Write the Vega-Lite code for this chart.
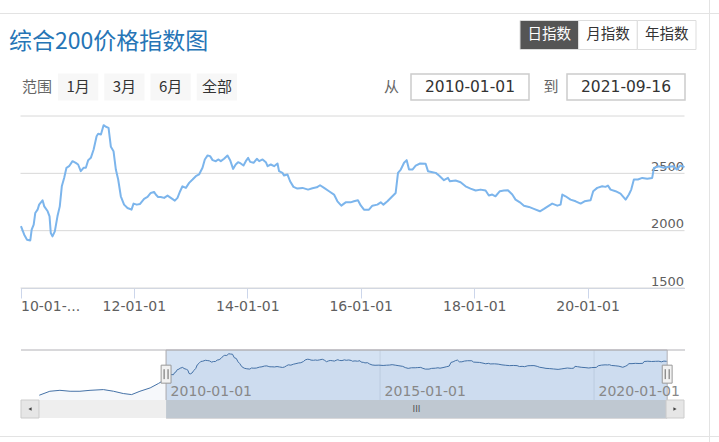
{
  "$schema": "https://vega.github.io/schema/vega-lite/v6.json",
  "width": 719,
  "height": 442,
  "autosize": {"type": "none"},
  "padding": 0,
  "background": "#ffffff",
  "config": {"view": {"stroke": null}, "font": "DejaVu Sans"},
  "datasets": {
    "index": [
      {"date": "2007-01-15", "value": 930}, {"date": "2007-04-15", "value": 1120}, {"date": "2007-07-10", "value": 1165}, {"date": "2007-10-05", "value": 1120}, {"date": "2007-12-28", "value": 1120}, {"date": "2008-03-23", "value": 1165}, {"date": "2008-07-15", "value": 1200}, {"date": "2008-10-10", "value": 1120}, {"date": "2009-01-01", "value": 1010}, {"date": "2009-03-13", "value": 960}, {"date": "2009-05-23", "value": 1120}, {"date": "2009-08-18", "value": 1280}, {"date": "2009-10-27", "value": 1490}, {"date": "2009-12-10", "value": 1640},
      {"date": "2010-01-04", "value": 2040}, {"date": "2010-01-25", "value": 1965}, {"date": "2010-02-12", "value": 1921}, {"date": "2010-03-05", "value": 1915}, {"date": "2010-03-14", "value": 2009}, {"date": "2010-03-27", "value": 2052}, {"date": "2010-04-06", "value": 2154}, {"date": "2010-04-21", "value": 2183}, {"date": "2010-05-01", "value": 2227}, {"date": "2010-05-23", "value": 2265}, {"date": "2010-06-03", "value": 2212}, {"date": "2010-06-25", "value": 2169}, {"date": "2010-07-07", "value": 2125}, {"date": "2010-07-15", "value": 1980}, {"date": "2010-07-26", "value": 1950}, {"date": "2010-08-10", "value": 1994}, {"date": "2010-08-27", "value": 2125}, {"date": "2010-09-11", "value": 2212}, {"date": "2010-09-24", "value": 2387}, {"date": "2010-10-09", "value": 2460}, {"date": "2010-10-24", "value": 2548}, {"date": "2010-11-10", "value": 2562}, {"date": "2010-12-02", "value": 2606}, {"date": "2010-12-23", "value": 2591},
      {"date": "2011-01-07", "value": 2577}, {"date": "2011-01-24", "value": 2519}, {"date": "2011-02-11", "value": 2548}, {"date": "2011-02-26", "value": 2548}, {"date": "2011-03-13", "value": 2615}, {"date": "2011-03-30", "value": 2635}, {"date": "2011-04-17", "value": 2708}, {"date": "2011-05-06", "value": 2824}, {"date": "2011-05-16", "value": 2845}, {"date": "2011-06-03", "value": 2839}, {"date": "2011-06-20", "value": 2920}, {"date": "2011-07-05", "value": 2906}, {"date": "2011-07-22", "value": 2897}, {"date": "2011-08-06", "value": 2731}, {"date": "2011-08-23", "value": 2693}, {"date": "2011-09-07", "value": 2533}, {"date": "2011-09-22", "value": 2446}, {"date": "2011-10-09", "value": 2300}, {"date": "2011-10-30", "value": 2227}, {"date": "2011-11-21", "value": 2198}, {"date": "2011-12-17", "value": 2183}, {"date": "2011-12-30", "value": 2236},
      {"date": "2012-01-20", "value": 2227}, {"date": "2012-02-10", "value": 2233}, {"date": "2012-03-07", "value": 2277}, {"date": "2012-03-29", "value": 2294}, {"date": "2012-04-19", "value": 2329}, {"date": "2012-05-10", "value": 2338}, {"date": "2012-05-21", "value": 2315}, {"date": "2012-06-05", "value": 2294}, {"date": "2012-06-22", "value": 2294}, {"date": "2012-07-14", "value": 2286}, {"date": "2012-08-05", "value": 2306}, {"date": "2012-08-26", "value": 2286}, {"date": "2012-09-21", "value": 2262}, {"date": "2012-10-08", "value": 2286}, {"date": "2012-10-25", "value": 2344}, {"date": "2012-11-09", "value": 2387}, {"date": "2012-12-01", "value": 2373}, {"date": "2012-12-22", "value": 2417},
      {"date": "2013-01-13", "value": 2446}, {"date": "2013-02-03", "value": 2475}, {"date": "2013-02-24", "value": 2490}, {"date": "2013-03-18", "value": 2548}, {"date": "2013-04-02", "value": 2621}, {"date": "2013-04-20", "value": 2656}, {"date": "2013-05-06", "value": 2650}, {"date": "2013-05-22", "value": 2615}, {"date": "2013-06-12", "value": 2606}, {"date": "2013-06-27", "value": 2621}, {"date": "2013-07-14", "value": 2606}, {"date": "2013-08-04", "value": 2627}, {"date": "2013-08-26", "value": 2656}, {"date": "2013-09-12", "value": 2615}, {"date": "2013-10-01", "value": 2539}, {"date": "2013-10-18", "value": 2577}, {"date": "2013-11-02", "value": 2597}, {"date": "2013-11-19", "value": 2586}, {"date": "2013-12-07", "value": 2568}, {"date": "2013-12-22", "value": 2606},
      {"date": "2014-01-06", "value": 2635}, {"date": "2014-01-19", "value": 2600}, {"date": "2014-02-10", "value": 2592}, {"date": "2014-03-03", "value": 2627}, {"date": "2014-03-18", "value": 2606}, {"date": "2014-04-09", "value": 2621}, {"date": "2014-04-30", "value": 2597}, {"date": "2014-05-11", "value": 2562}, {"date": "2014-06-01", "value": 2577}, {"date": "2014-06-22", "value": 2562}, {"date": "2014-07-14", "value": 2586}, {"date": "2014-07-24", "value": 2519}, {"date": "2014-08-15", "value": 2504}, {"date": "2014-08-25", "value": 2481}, {"date": "2014-09-16", "value": 2490}, {"date": "2014-10-03", "value": 2431}, {"date": "2014-10-25", "value": 2382}, {"date": "2014-11-19", "value": 2367}, {"date": "2014-12-22", "value": 2373},
      {"date": "2015-01-27", "value": 2358}, {"date": "2015-02-24", "value": 2370}, {"date": "2015-03-24", "value": 2378}, {"date": "2015-04-14", "value": 2396}, {"date": "2015-05-10", "value": 2373}, {"date": "2015-06-11", "value": 2344}, {"date": "2015-07-13", "value": 2315}, {"date": "2015-08-04", "value": 2256}, {"date": "2015-08-29", "value": 2218}, {"date": "2015-09-26", "value": 2247}, {"date": "2015-10-28", "value": 2247}, {"date": "2015-11-18", "value": 2256}, {"date": "2015-12-14", "value": 2265},
      {"date": "2016-01-01", "value": 2220}, {"date": "2016-01-22", "value": 2183}, {"date": "2016-02-23", "value": 2183}, {"date": "2016-03-16", "value": 2218}, {"date": "2016-04-17", "value": 2227}, {"date": "2016-05-09", "value": 2247}, {"date": "2016-05-26", "value": 2227}, {"date": "2016-06-21", "value": 2256}, {"date": "2016-07-23", "value": 2300}, {"date": "2016-08-13", "value": 2329}, {"date": "2016-08-28", "value": 2504}, {"date": "2016-09-15", "value": 2533}, {"date": "2016-10-06", "value": 2592}, {"date": "2016-10-23", "value": 2615}, {"date": "2016-11-07", "value": 2533}, {"date": "2016-11-29", "value": 2533}, {"date": "2016-12-20", "value": 2568},
      {"date": "2017-01-17", "value": 2586}, {"date": "2017-02-22", "value": 2583}, {"date": "2017-03-09", "value": 2519}, {"date": "2017-04-07", "value": 2510}, {"date": "2017-04-28", "value": 2504}, {"date": "2017-05-19", "value": 2481}, {"date": "2017-06-20", "value": 2440}, {"date": "2017-07-16", "value": 2460}, {"date": "2017-07-28", "value": 2431}, {"date": "2017-09-03", "value": 2437}, {"date": "2017-10-05", "value": 2422}, {"date": "2017-11-06", "value": 2387}, {"date": "2017-12-08", "value": 2367},
      {"date": "2018-01-10", "value": 2350}, {"date": "2018-02-11", "value": 2358}, {"date": "2018-03-15", "value": 2350}, {"date": "2018-04-05", "value": 2306}, {"date": "2018-04-27", "value": 2315}, {"date": "2018-05-18", "value": 2300}, {"date": "2018-06-15", "value": 2344}, {"date": "2018-07-11", "value": 2350}, {"date": "2018-08-06", "value": 2352}, {"date": "2018-09-03", "value": 2315}, {"date": "2018-09-24", "value": 2271}, {"date": "2018-10-22", "value": 2247}, {"date": "2018-11-17", "value": 2218}, {"date": "2018-12-19", "value": 2207},
      {"date": "2019-01-20", "value": 2190}, {"date": "2019-02-28", "value": 2169}, {"date": "2019-03-26", "value": 2190}, {"date": "2019-04-20", "value": 2212}, {"date": "2019-05-18", "value": 2236}, {"date": "2019-06-20", "value": 2218}, {"date": "2019-07-11", "value": 2227}, {"date": "2019-07-22", "value": 2315}, {"date": "2019-08-12", "value": 2300}, {"date": "2019-09-13", "value": 2271}, {"date": "2019-10-16", "value": 2256}, {"date": "2019-11-17", "value": 2236}, {"date": "2019-12-12", "value": 2256},
      {"date": "2020-01-20", "value": 2265}, {"date": "2020-02-06", "value": 2344}, {"date": "2020-03-03", "value": 2373}, {"date": "2020-04-04", "value": 2387}, {"date": "2020-04-25", "value": 2382}, {"date": "2020-05-11", "value": 2393}, {"date": "2020-05-28", "value": 2358}, {"date": "2020-06-29", "value": 2344}, {"date": "2020-07-31", "value": 2323}, {"date": "2020-09-02", "value": 2271}, {"date": "2020-09-23", "value": 2315}, {"date": "2020-10-08", "value": 2358}, {"date": "2020-10-25", "value": 2446}, {"date": "2020-11-20", "value": 2446}, {"date": "2020-12-18", "value": 2460},
      {"date": "2021-01-19", "value": 2452}, {"date": "2021-02-20", "value": 2460}, {"date": "2021-03-03", "value": 2548}, {"date": "2021-04-04", "value": 2562}, {"date": "2021-05-06", "value": 2548}, {"date": "2021-06-07", "value": 2557}, {"date": "2021-07-07", "value": 2562}, {"date": "2021-07-29", "value": 2533}, {"date": "2021-08-19", "value": 2568}, {"date": "2021-09-11", "value": 2557}, {"date": "2021-09-16", "value": 2555}
    ],
    "selection": [{"start": "2010-01-01", "end": "2021-09-16", "mid": "2015-11-08"}],
    "views": [{"label": "日指数", "active": true}, {"label": "月指数", "active": false}, {"label": "年指数", "active": false}],
    "ranges": [{"label": "1月"}, {"label": "3月"}, {"label": "6月"}, {"label": "全部"}],
    "bounds": [{"label": "从", "date": "2010-01-01"}, {"label": "到", "date": "2021-09-16"}],
    "ygrid": [{"tick": 1500}, {"tick": 2000}, {"tick": 2500}, {"tick": 3000}],
    "navgrid": [{"tick": "2010-01-01"}, {"tick": "2015-01-01"}, {"tick": "2020-01-01"}]
  },
  "layer": [
    {
      "data": {"values": [{"edge": "top"}, {"edge": "bottom"}]},
      "mark": {"type": "rule", "color": "#e3e3e3", "strokeWidth": 1},
      "encoding": {"y": {"field": "edge", "type": "nominal", "scale": {"type": "point", "domain": ["top", "bottom"], "range": [13.5, 436.5], "padding": 0}, "axis": null}}
    },
    {
      "data": {"values": [{"edge": "right"}]},
      "mark": {"type": "rule", "color": "#e3e3e3", "strokeWidth": 1},
      "encoding": {"x": {"field": "edge", "type": "nominal", "scale": {"type": "point", "domain": ["right"], "range": [709.5, 709.5], "padding": 0}, "axis": null}}
    },
    {
      "data": {"values": [{"title": "综合200价格指数图"}]},
      "mark": {"type": "text", "font": "Noto Sans CJK SC", "fontSize": 23, "color": "#2675b6", "align": "left", "baseline": "alphabetic"},
      "encoding": {
        "x": {"field": "title", "type": "nominal", "scale": {"type": "point", "domain": ["综合200价格指数图"], "range": [9, 9], "padding": 0}, "axis": null},
        "y": {"field": "title", "type": "nominal", "scale": {"type": "point", "domain": ["综合200价格指数图"], "range": [49, 49], "padding": 0}, "axis": null},
        "text": {"field": "title"}
      }
    },
    {
      "data": {"name": "views"},
      "encoding": {
        "x": {"field": "label", "type": "nominal", "scale": {"type": "band", "domain": ["日指数", "月指数", "年指数"], "range": [520, 696], "paddingInner": 0, "paddingOuter": 0}, "axis": null},
        "y": {"datum": "views", "type": "nominal", "scale": {"type": "band", "domain": ["views"], "range": [20.5, 49.5], "paddingInner": 0, "paddingOuter": 0}, "axis": null}
      },
      "layer": [
        {"mark": {"type": "rect", "stroke": "#dddddd", "strokeWidth": 1}, "encoding": {"fill": {"condition": {"test": "datum.active", "value": "#555555"}, "value": "#ffffff"}}},
        {"mark": {"type": "text", "font": "Noto Sans CJK SC", "fontSize": 14.5}, "encoding": {"text": {"field": "label"}, "color": {"condition": {"test": "datum.active", "value": "#ffffff"}, "value": "#333333"}}}
      ]
    },
    {
      "data": {"name": "ranges"},
      "encoding": {
        "x": {"field": "label", "type": "nominal", "scale": {"type": "band", "domain": ["1月", "3月", "6月", "全部"], "range": [58, 237], "paddingInner": 0.13, "paddingOuter": 0}, "axis": null},
        "y": {"datum": "ranges", "type": "nominal", "scale": {"type": "band", "domain": ["ranges"], "range": [73.5, 100.5], "paddingInner": 0, "paddingOuter": 0}, "axis": null}
      },
      "layer": [
        {"mark": {"type": "rect", "fill": "#f7f7f7"}},
        {"mark": {"type": "text", "font": "Noto Sans CJK SC", "fontSize": 15, "color": "#333333"}, "encoding": {"text": {"field": "label"}}}
      ]
    },
    {
      "data": {"values": [{"caption": "范围"}]},
      "mark": {"type": "text", "font": "Noto Sans CJK SC", "fontSize": 15, "color": "#666666"},
      "encoding": {
        "x": {"field": "caption", "type": "nominal", "scale": {"type": "point", "domain": ["范围"], "range": [37, 37], "padding": 0}, "axis": null},
        "y": {"field": "caption", "type": "nominal", "scale": {"type": "point", "domain": ["范围"], "range": [87, 87], "padding": 0}, "axis": null},
        "text": {"field": "caption"}
      }
    },
    {
      "data": {"name": "bounds"},
      "layer": [
        {
          "encoding": {
            "x": {"field": "label", "type": "nominal", "scale": {"type": "band", "domain": ["从", "到"], "range": [411, 685], "paddingInner": 0.2436, "paddingOuter": 0}, "axis": null},
            "y": {"datum": "bounds", "type": "nominal", "scale": {"type": "band", "domain": ["bounds"], "range": [74, 100], "paddingInner": 0, "paddingOuter": 0}, "axis": null}
          },
          "layer": [
            {"mark": {"type": "rect", "fill": "#ffffff", "stroke": "#cccccc", "strokeWidth": 1.5}},
            {"mark": {"type": "text", "font": "DejaVu Sans", "fontSize": 15.5, "color": "#333333"}, "encoding": {"text": {"field": "date"}}}
          ]
        },
        {
          "mark": {"type": "text", "font": "Noto Sans CJK SC", "fontSize": 15, "color": "#666666"},
          "encoding": {
            "x": {"field": "label", "type": "nominal", "scale": {"type": "point", "domain": ["从", "到"], "range": [391.5, 551], "padding": 0}, "axis": null},
            "y": {"datum": "bounds", "type": "nominal", "scale": {"type": "point", "domain": ["bounds"], "range": [87, 87], "padding": 0}, "axis": null},
            "text": {"field": "label"}
          }
        }
      ],
      "resolve": {"scale": {"x": "independent", "y": "independent"}}
    },
    {
      "layer": [
        {
          "data": {"name": "ygrid"},
          "mark": {"type": "rule", "color": "#d8d8d8", "strokeWidth": 1},
          "encoding": {
            "x": {"datum": {"year": 2010, "month": 1, "date": 1, "utc": true}, "type": "temporal", "scale": {"type": "utc", "domain": [{"year": 2010, "month": 1, "date": 1, "utc": true}, {"year": 2021, "month": 9, "date": 16, "utc": true}], "range": [20.5, 684.5]}},
            "x2": {"datum": {"year": 2021, "month": 9, "date": 16, "utc": true}},
            "y": {"field": "tick", "type": "quantitative", "scale": {"domain": [1500, 3000], "range": [288, 116], "nice": false, "zero": false}}
          }
        },
        {
          "data": {"name": "index"},
          "transform": [{"filter": "time(datum.date) >= utc(2010, 0, 1)"}],
          "mark": {"type": "line", "color": "#7cb5ec", "strokeWidth": 2, "strokeJoin": "round"},
          "encoding": {
            "x": {
              "field": "date", "type": "temporal",
              "scale": {"type": "utc", "domain": [{"year": 2010, "month": 1, "date": 1, "utc": true}, {"year": 2021, "month": 9, "date": 16, "utc": true}], "range": [20.5, 684.5]},
              "axis": {
                "orient": "bottom", "offset": -154,
                "values": [{"year": 2010, "month": 1, "date": 1, "utc": true}, {"year": 2012, "month": 1, "date": 1, "utc": true}, {"year": 2014, "month": 1, "date": 1, "utc": true}, {"year": 2016, "month": 1, "date": 1, "utc": true}, {"year": 2018, "month": 1, "date": 1, "utc": true}, {"year": 2020, "month": 1, "date": 1, "utc": true}],
                "format": "%y-%m-%d",
                "labelExpr": "utcyear(datum.value) == 2010 ? '10-01-...' : datum.label",
                "labelFlush": true, "labelOverlap": false,
                "tickSize": 10, "tickColor": "#ccd6eb", "domainColor": "#ccd6eb",
                "labelColor": "#606060", "labelFont": "DejaVu Sans", "labelFontSize": 14,
                "labelPadding": 8, "labelBaseline": "middle", "grid": false, "title": null
              }
            },
            "y": {
              "field": "value", "type": "quantitative",
              "scale": {"domain": [1500, 3000], "range": [288, 116], "nice": false, "zero": false},
              "axis": {
                "orient": "right", "offset": 0, "values": [1500, 2000, 2500, 3000], "format": "d",
                "labelExpr": "datum.value == 3000 ? '' : datum.label",
                "grid": false, "domain": false, "ticks": false,
                "labelAlign": "right", "labelPadding": -35.5, "labelBaseline": "alphabetic", "labelOffset": -3,
                "labelColor": "#606060", "labelFont": "DejaVu Sans", "labelFontSize": 13, "title": null
              }
            }
          }
        }
      ]
    },
    {
      "layer": [
        {
          "data": {"name": "navgrid"},
          "mark": {"type": "rule", "color": "#e6e6e6", "strokeWidth": 1},
          "encoding": {
            "x": {
              "field": "tick", "type": "temporal",
              "scale": {"type": "utc", "domain": [{"year": 2006, "month": 8, "date": 12, "utc": true}, {"year": 2022, "month": 2, "date": 15, "utc": true}], "range": [21, 685]},
              "axis": {
                "orient": "bottom", "offset": 0,
                "values": [{"year": 2010, "month": 1, "date": 1, "utc": true}, {"year": 2015, "month": 1, "date": 1, "utc": true}, {"year": 2020, "month": 1, "date": 1, "utc": true}],
                "format": "%Y-%m-%d", "grid": false, "domain": false, "ticks": false,
                "labelAlign": "left", "labelOffset": 4, "labelPadding": -47, "labelBaseline": "alphabetic",
                "labelColor": "#888888", "labelFont": "DejaVu Sans", "labelFontSize": 14,
                "labelFlush": false, "labelOverlap": false, "title": null, "zindex": 1
              }
            },
            "y": {"datum": 3100, "type": "quantitative", "scale": {"domain": [700, 3100], "range": [400, 350], "nice": false, "zero": false}, "axis": null},
            "y2": {"datum": 700}
          }
        },
        {
          "data": {"name": "selection"},
          "mark": {"type": "rect", "fill": "#6f9fd8", "fillOpacity": 0.3},
          "encoding": {
            "x": {"field": "start", "type": "temporal"},
            "x2": {"field": "end"},
            "y": {"datum": 3100, "type": "quantitative"},
            "y2": {"datum": 700}
          }
        },
        {
          "data": {"name": "index"},
          "mark": {"type": "area", "color": "#4572a7", "fillOpacity": 0.05},
          "encoding": {
            "x": {"field": "date", "type": "temporal"},
            "y": {"field": "value", "type": "quantitative"},
            "y2": {"datum": 700}
          }
        },
        {
          "data": {"name": "index"},
          "mark": {"type": "line", "color": "#4572a7", "strokeWidth": 1},
          "encoding": {
            "x": {"field": "date", "type": "temporal"},
            "y": {"field": "value", "type": "quantitative"}
          }
        },
        {
          "data": {"name": "selection"},
          "mark": {"type": "rule", "color": "#b2b1b6", "strokeWidth": 1},
          "encoding": {
            "x": {"datum": {"year": 2006, "month": 8, "date": 12, "utc": true}, "type": "temporal"},
            "x2": {"datum": {"year": 2022, "month": 2, "date": 15, "utc": true}},
            "y": {"datum": 3100, "type": "quantitative"}
          }
        },
        {
          "data": {"name": "selection"},
          "mark": {"type": "rect", "fill": null, "fillOpacity": 0, "stroke": "#b2b1b6", "strokeWidth": 1},
          "encoding": {
            "x": {"field": "start", "type": "temporal"},
            "x2": {"field": "end"},
            "y": {"datum": 3100, "type": "quantitative"},
            "y2": {"datum": -164}
          }
        },
        {
          "data": {"name": "selection"},
          "mark": {"type": "point", "shape": "M-0.55,-1H0.55V1H-0.55Z", "size": 324, "filled": true, "fill": "#f2f2f2", "stroke": "#999999", "strokeWidth": 1, "opacity": 1},
          "encoding": {"x": {"field": "start", "type": "temporal"}, "y": {"datum": 1940, "type": "quantitative"}}
        },
        {
          "data": {"name": "selection"},
          "mark": {"type": "point", "shape": "M-0.55,-1H0.55V1H-0.55Z", "size": 324, "filled": true, "fill": "#f2f2f2", "stroke": "#999999", "strokeWidth": 1, "opacity": 1},
          "encoding": {"x": {"field": "end", "type": "temporal"}, "y": {"datum": 1940, "type": "quantitative"}}
        },
        {
          "data": {"name": "selection"},
          "mark": {"type": "point", "shape": "M-0.22,-0.55V0.55M0.22,-0.55V0.55", "size": 324, "filled": false, "stroke": "#666666", "strokeWidth": 1, "opacity": 1},
          "encoding": {"x": {"field": "start", "type": "temporal"}, "y": {"datum": 1940, "type": "quantitative"}}
        },
        {
          "data": {"name": "selection"},
          "mark": {"type": "point", "shape": "M-0.22,-0.55V0.55M0.22,-0.55V0.55", "size": 324, "filled": false, "stroke": "#666666", "strokeWidth": 1, "opacity": 1},
          "encoding": {"x": {"field": "end", "type": "temporal"}, "y": {"datum": 1940, "type": "quantitative"}}
        }
      ]
    },
    {
      "layer": [
        {
          "data": {"values": [{"part": "track"}]},
          "mark": {"type": "rect", "fill": "#eeeeee"},
          "encoding": {
            "x": {"field": "part", "type": "nominal", "scale": {"type": "band", "domain": ["track"], "range": [21, 684], "paddingInner": 0, "paddingOuter": 0}, "axis": null},
            "y": {"datum": "scrollbar", "type": "nominal", "scale": {"type": "band", "domain": ["scrollbar"], "range": [400, 418], "paddingInner": 0, "paddingOuter": 0}, "axis": null}
          }
        },
        {
          "data": {"name": "selection"},
          "mark": {"type": "rect", "fill": "#bfc8d1"},
          "encoding": {
            "x": {"field": "start", "type": "temporal", "scale": {"type": "utc", "domain": [{"year": 2006, "month": 8, "date": 12, "utc": true}, {"year": 2022, "month": 2, "date": 15, "utc": true}], "range": [21, 685]}, "axis": null},
            "x2": {"field": "end"},
            "y": {"datum": "scrollbar", "type": "nominal"}
          }
        },
        {
          "data": {"name": "selection"},
          "mark": {"type": "text", "text": "III", "font": "DejaVu Sans", "fontSize": 9, "color": "#555555"},
          "encoding": {
            "x": {"field": "mid", "type": "temporal", "scale": {"type": "utc", "domain": [{"year": 2006, "month": 8, "date": 12, "utc": true}, {"year": 2022, "month": 2, "date": 15, "utc": true}], "range": [21, 685]}, "axis": null},
            "y": {"datum": "scrollbar", "type": "nominal"}
          }
        },
        {
          "data": {"values": [{"side": "left"}, {"side": "right"}]},
          "encoding": {
            "x": {"field": "side", "type": "nominal", "scale": {"type": "band", "domain": ["left", "right"], "range": [21, 684], "paddingInner": 0.97214, "paddingOuter": 0}, "axis": null},
            "y": {"datum": "scrollbar", "type": "nominal"}
          },
          "layer": [
            {"mark": {"type": "rect", "fill": "#e6e6e6", "stroke": "#cccccc", "strokeWidth": 1}},
            {"mark": {"type": "point", "filled": true, "size": 14, "color": "#444444", "opacity": 1}, "encoding": {"shape": {"field": "side", "type": "nominal", "scale": {"domain": ["left", "right"], "range": ["triangle-left", "triangle-right"]}, "legend": null}}}
          ]
        }
      ],
      "resolve": {"scale": {"x": "independent"}}
    }
  ],
  "resolve": {"scale": {"x": "independent", "y": "independent", "shape": "independent"}}
}
